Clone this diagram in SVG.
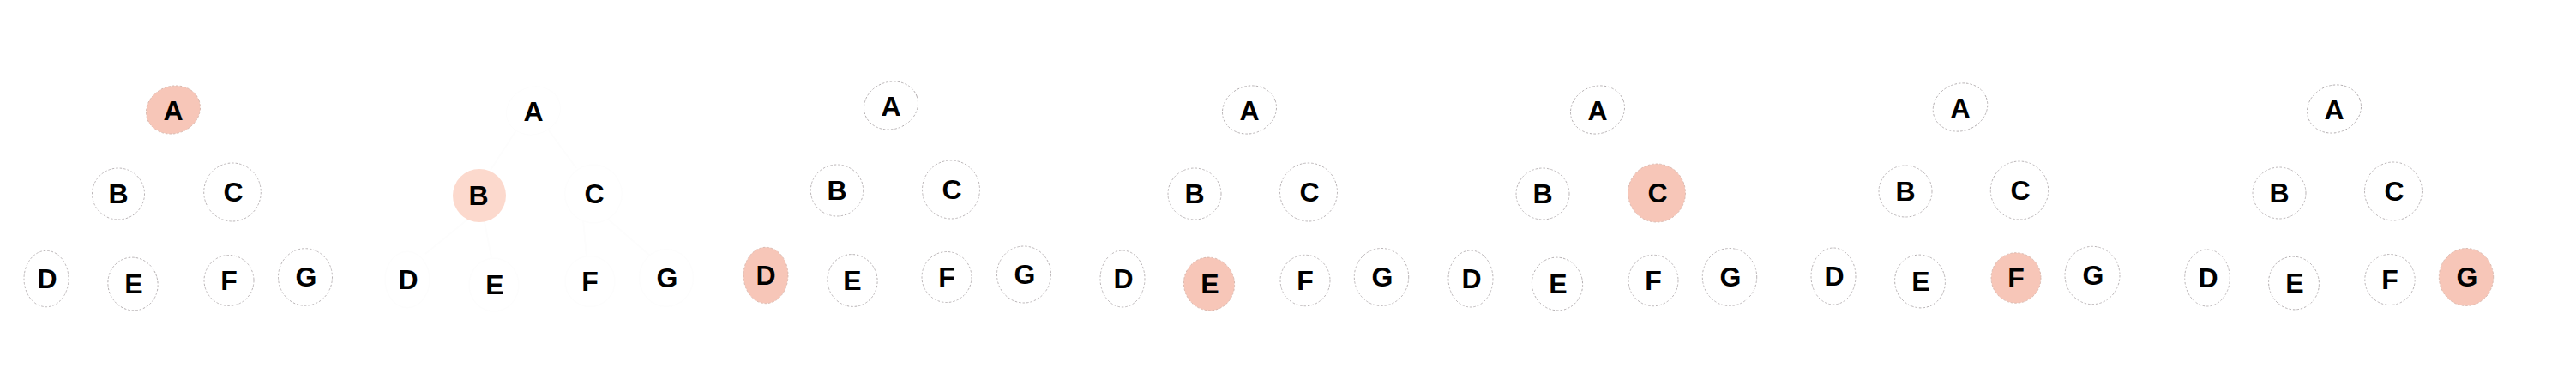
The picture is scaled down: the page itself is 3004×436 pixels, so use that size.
<svg xmlns="http://www.w3.org/2000/svg" width="3004" height="436" viewBox="0 0 3004 436">
<style>
.bg{fill:#ffffff}
.n{fill:#ffffff;stroke:#b3aeb0;stroke-width:0.9;stroke-dasharray:2.5 2}
.hi{fill:#f7c6b8;stroke:#d3b1a7;stroke-width:0.8;stroke-dasharray:2.5 2}
.lt{fill:#fcd9cd;stroke:none}
.ghost{fill:#ffffff;stroke:#fdfdfd;stroke-width:1}
.e{stroke:#fdfdfd;stroke-width:2;fill:none}
text{font-family:"Liberation Sans","DejaVu Sans",sans-serif;font-weight:bold;font-size:32px;fill:#000000;text-anchor:middle}
</style>
<rect class="bg" x="0" y="0" width="3004" height="436"/>
<g id="connectors">
<path class="e" d="M602,152 L572,198 M640,152 L672,196 M545,256 L496,296 M565,259 L573,300 M680,256 L684,300 M705,252 L758,298"/>
</g>
<!-- Panel 1 -->
<g id="p1">
<g id="p1-A"><ellipse class="hi" cx="202" cy="128" rx="32" ry="27.5" transform="rotate(-20 202 128)"/><text x="202" y="140">A</text></g>
<g id="p1-B"><ellipse class="n" cx="138" cy="226" rx="30.5" ry="30"/><text x="138" y="237">B</text></g>
<g id="p1-C"><ellipse class="n" cx="271" cy="224" rx="33.3" ry="34"/><text x="272" y="235">C</text></g>
<g id="p1-D"><ellipse class="n" cx="54" cy="325" rx="26" ry="32.7"/><text x="55" y="336">D</text></g>
<g id="p1-E"><ellipse class="n" cx="155" cy="331" rx="29" ry="31" transform="rotate(-15 155 331)"/><text x="156" y="342">E</text></g>
<g id="p1-F"><ellipse class="n" cx="267" cy="327" rx="29" ry="29.5"/><text x="267" y="338">F</text></g>
<g id="p1-G"><ellipse class="n" cx="356" cy="323" rx="31.5" ry="33.3"/><text x="357" y="334">G</text></g>
</g>
<!-- Panel 2 -->
<g id="p2">
<g id="p2-A"><ellipse class="ghost" cx="622" cy="129" rx="32" ry="27.5" transform="rotate(-20 622 129)"/><text x="622" y="141">A</text></g>
<g id="p2-B"><circle class="lt" cx="559" cy="228" r="31"/><text x="558" y="239">B</text></g>
<g id="p2-C"><ellipse class="ghost" cx="692" cy="226" rx="33.3" ry="34"/><text x="693" y="237">C</text></g>
<g id="p2-D"><ellipse class="ghost" cx="475" cy="326" rx="26" ry="32.7"/><text x="476" y="337">D</text></g>
<g id="p2-E"><ellipse class="ghost" cx="576" cy="332" rx="29" ry="31"/><text x="577" y="343">E</text></g>
<g id="p2-F"><ellipse class="ghost" cx="688" cy="328" rx="29" ry="29.5"/><text x="688" y="339">F</text></g>
<g id="p2-G"><ellipse class="ghost" cx="777" cy="324" rx="31.5" ry="33.3"/><text x="778" y="335">G</text></g>
</g>
<!-- Panel 3 -->
<g id="p3">
<g id="p3-A"><ellipse class="n" cx="1039" cy="123" rx="32" ry="27.5" transform="rotate(-20 1039 123)"/><text x="1039" y="135">A</text></g>
<g id="p3-B"><ellipse class="n" cx="976" cy="222" rx="30.7" ry="30"/><text x="976" y="233">B</text></g>
<g id="p3-C"><ellipse class="n" cx="1109" cy="221" rx="33.5" ry="34"/><text x="1110" y="232">C</text></g>
<g id="p3-D"><ellipse class="hi" cx="893" cy="321" rx="26" ry="32.7"/><text x="893" y="332">D</text></g>
<g id="p3-E"><ellipse class="n" cx="994" cy="327" rx="29" ry="30.5" transform="rotate(-15 994 327)"/><text x="994" y="338">E</text></g>
<g id="p3-F"><ellipse class="n" cx="1104" cy="323" rx="29" ry="29.5"/><text x="1104" y="334">F</text></g>
<g id="p3-G"><ellipse class="n" cx="1194" cy="320" rx="31.5" ry="33"/><text x="1195" y="331">G</text></g>
</g>
<!-- Panel 4 -->
<g id="p4">
<g id="p4-A"><ellipse class="n" cx="1457" cy="128" rx="32" ry="27.5" transform="rotate(-20 1457 128)"/><text x="1457" y="140">A</text></g>
<g id="p4-B"><ellipse class="n" cx="1393" cy="226" rx="31" ry="30"/><text x="1393" y="237">B</text></g>
<g id="p4-C"><ellipse class="n" cx="1526" cy="224" rx="33.5" ry="34"/><text x="1527" y="235">C</text></g>
<g id="p4-D"><ellipse class="n" cx="1309" cy="325" rx="26" ry="33"/><text x="1310" y="336">D</text></g>
<g id="p4-E"><ellipse class="hi" cx="1410" cy="331" rx="29.5" ry="31" transform="rotate(-15 1410 331)"/><text x="1411" y="342">E</text></g>
<g id="p4-F"><ellipse class="n" cx="1522" cy="327" rx="29" ry="29.7"/><text x="1522" y="338">F</text></g>
<g id="p4-G"><ellipse class="n" cx="1611" cy="323" rx="31.7" ry="33.5"/><text x="1612" y="334">G</text></g>
</g>
<!-- Panel 5 -->
<g id="p5">
<g id="p5-A"><ellipse class="n" cx="1863" cy="128" rx="32" ry="27.5" transform="rotate(-20 1863 128)"/><text x="1863" y="140">A</text></g>
<g id="p5-B"><ellipse class="n" cx="1799" cy="226" rx="31" ry="30"/><text x="1799" y="237">B</text></g>
<g id="p5-C"><ellipse class="hi" cx="1932" cy="225" rx="33.5" ry="34"/><text x="1933" y="236">C</text></g>
<g id="p5-D"><ellipse class="n" cx="1715" cy="325" rx="26" ry="33"/><text x="1716" y="336">D</text></g>
<g id="p5-E"><ellipse class="n" cx="1816" cy="331" rx="29.5" ry="31" transform="rotate(-15 1816 331)"/><text x="1817" y="342">E</text></g>
<g id="p5-F"><ellipse class="n" cx="1928" cy="327" rx="29" ry="29.7"/><text x="1928" y="338">F</text></g>
<g id="p5-G"><ellipse class="n" cx="2017" cy="323" rx="31.7" ry="33.5"/><text x="2018" y="334">G</text></g>
</g>
<!-- Panel 6 -->
<g id="p6">
<g id="p6-A"><ellipse class="n" cx="2286" cy="125" rx="32.3" ry="27.5" transform="rotate(-20 2286 125)"/><text x="2286" y="137">A</text></g>
<g id="p6-B"><ellipse class="n" cx="2222" cy="223" rx="31" ry="30"/><text x="2222" y="234">B</text></g>
<g id="p6-C"><ellipse class="n" cx="2355" cy="222" rx="33.7" ry="34"/><text x="2356" y="233">C</text></g>
<g id="p6-D"><ellipse class="n" cx="2138" cy="322" rx="26" ry="33"/><text x="2139" y="333">D</text></g>
<g id="p6-E"><ellipse class="n" cx="2239" cy="328" rx="29.3" ry="31" transform="rotate(-15 2239 328)"/><text x="2240" y="339">E</text></g>
<g id="p6-F"><ellipse class="hi" cx="2351" cy="324" rx="29" ry="29.3"/><text x="2351" y="335">F</text></g>
<g id="p6-G"><ellipse class="n" cx="2440" cy="321" rx="32" ry="33.7"/><text x="2441" y="332">G</text></g>
</g>
<!-- Panel 7 -->
<g id="p7">
<g id="p7-A"><ellipse class="n" cx="2722" cy="127" rx="32" ry="27.5" transform="rotate(-20 2722 127)"/><text x="2722" y="139">A</text></g>
<g id="p7-B"><ellipse class="n" cx="2658" cy="225" rx="31" ry="30"/><text x="2658" y="236">B</text></g>
<g id="p7-C"><ellipse class="n" cx="2791" cy="223" rx="33.5" ry="34"/><text x="2792" y="234">C</text></g>
<g id="p7-D"><ellipse class="n" cx="2574" cy="324" rx="26.3" ry="33"/><text x="2575" y="335">D</text></g>
<g id="p7-E"><ellipse class="n" cx="2675" cy="330" rx="29.3" ry="31" transform="rotate(-15 2675 330)"/><text x="2676" y="341">E</text></g>
<g id="p7-F"><ellipse class="n" cx="2787" cy="326" rx="29.2" ry="29.5"/><text x="2787" y="337">F</text></g>
<g id="p7-G"><ellipse class="hi" cx="2876" cy="323" rx="31.7" ry="33.5"/><text x="2877" y="334">G</text></g>
</g>
</svg>
